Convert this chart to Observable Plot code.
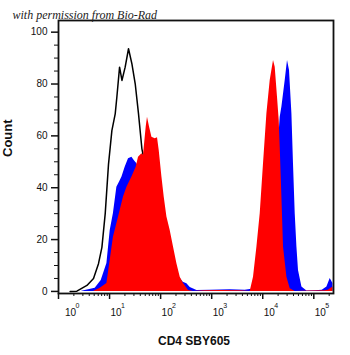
<!DOCTYPE html>
<html>
<head>
<meta charset="utf-8">
<script src="https://cdn.jsdelivr.net/npm/d3@7"></script>
<script src="https://cdn.jsdelivr.net/npm/@observablehq/plot@0.6"></script>
<style>
  html, body { margin: 0; padding: 0; background: #fff; }
</style>
</head>
<body>
<div id="chart"></div>
<script>
// Unstained / control histogram (black outline)
const isoX = [1.69,2.29,3.60,4.85,6.07,7.08,8.22,9.53,11.1,12.9,13.9,15.7,17.5,20.2,23.5,27.4,31.8,36.9,43.0,62.5,98,154,242];
const isoCount = [0,0.1,2.3,5,10.7,17,30,49,62,68.5,75,86.5,81.4,86.5,93.6,87.8,80.1,68.5,55,39,19.7,6,0.8];

// Blue filled histogram
const blueX = [2.87,5.23,6.86,8.87,10.3,11.9,13.9,15.7,17.5,20.2,23.5,27.4,30.4,34.3,43.6,62.5,98,154,221,277,327,380,514,935,2305,4530,7120,9750,12790,16030,19190,21980,23720,27540,30540,33420,37240,40000,43240,46680,50130,58460,73250,106500,146000,180600,209500,236700];
const blueCount = [0.1,1.2,4.2,10.8,23.5,30.1,40.2,42.2,44.1,47.9,51.2,51.8,50.5,49.2,45,40,30,18,6,3.5,3,1.5,0.4,0.5,0.6,0.5,1,4,12,30,50,67.2,71.1,81.4,89.1,85.2,68.5,49.2,30,17.1,8.1,1.7,0.2,0.3,0.5,1.7,5,3.1];

// Red filled histogram (CD4 SBY605)
const redX = [4.85,6.56,8.87,10.3,11.9,15.0,18.75,21.9,27.4,33.2,36.9,43.0,46.2,49.9,52.2,55.3,60.6,67.5,78.3,86.9,93.8,106,117.5,132.8,154,178.7,208.4,242,280.6,351.6,440.6,746,1469,3620,5680,6590,7690,8920,10350,12060,14000,16250,17540,19450,21000,21980,23720,25510,29730,34510,43240,84960,167200,191400,236700];
const redCount = [0,1.2,3.1,12,20.9,28.7,36.4,40.2,44.1,47.9,51.8,53.1,52.4,59.5,63.4,67.2,63.4,59.5,58.9,59.3,54.4,44.1,36.4,28.7,23.5,17.1,10.7,5.5,3.1,0.4,0,0.3,0.4,0.3,0,5.5,17.1,30,49.2,68.5,81.4,89.1,86.5,74.9,65.9,55.6,36.4,17.1,5.5,1,0,0.2,0.3,0.5,1.7];

// Axis ticks and labels
const yMajorTicks = [0,20,40,60,80,100];
const yMinorTicks = [5,10,15,25,30,35,45,50,55,65,70,75,85,90,95];
const xMajorTicks = [1,10,100,1000,10000,100000];
const xExponents = ["0","1","2","3","4","5"];
const xMinorTicks = [2,3,4,5,6,7,8,9,20,30,40,50,60,70,80,90,200,300,400,500,600,700,800,900,2000,3000,4000,5000,6000,7000,8000,9000,20000,30000,40000,50000,60000,70000,80000,90000,200000];
const titleText = "with permission from Bio-Rad";
const xLabel = "CD4 SBY605";
const yLabel = "Count";

const toRows = (xs, ys) => xs.map((x, i) => ({x, y: ys[i]}));
const iso = toRows(isoX, isoCount);
const blue = toRows(blueX, blueCount);
const red = toRows(redX, redCount);
const majorRows = xMajorTicks.map((v, i) => ({v, e: xExponents[i]}));
const firstMajor = majorRows.slice(0, 1);
const restMajor = majorRows.slice(1);

const chart = Plot.plot({
  width: 350,
  height: 355,
  marginLeft: 58,
  marginRight: 17,
  marginTop: 20,
  marginBottom: 62,
  style: {fontFamily: "'Liberation Sans', Arial, sans-serif", fontSize: "10px", color: "#111", background: "#fff", overflow: "visible"},
  x: {type: "log", domain: [1, 243000]},
  y: {domain: [-0.8, 104.5]},
  marks: [
    Plot.line(iso, {x: "x", y: "y", stroke: "#000", strokeWidth: 1.5}),
    Plot.areaY(blue, {x: "x", y: "y", fill: "#0000ff"}),
    Plot.areaY(red, {x: "x", y: "y", fill: "#ff0000"}),
    Plot.frame({stroke: "#111", strokeWidth: 1.8}),
    Plot.axisY({ticks: yMajorTicks, tickSize: 7, tickPadding: 4, strokeWidth: 1.5, label: null, fontSize: 10}),
    Plot.axisY({ticks: yMinorTicks, tickSize: 4, tickFormat: () => "", label: null}),
    Plot.axisX({ticks: xMajorTicks, tickSize: 6, strokeWidth: 1.5, tickFormat: () => "", label: null}),
    Plot.axisX({ticks: xMinorTicks, tickSize: 3, tickFormat: () => "", label: null}),
    // decade labels: "10" with superscript exponent
    Plot.text(restMajor, {x: "v", text: () => "10", frameAnchor: "bottom", textAnchor: "start", lineAnchor: "bottom", dx: 1, dy: 22, fontSize: 10, fill: "#111"}),
    Plot.text(restMajor, {x: "v", text: "e", frameAnchor: "bottom", textAnchor: "start", lineAnchor: "bottom", dx: 11.5, dy: 14, fontSize: 7, fill: "#111"}),
    Plot.text(firstMajor, {x: "v", text: () => "10", frameAnchor: "bottom", textAnchor: "start", lineAnchor: "bottom", dx: 6.5, dy: 22, fontSize: 10, fill: "#111"}),
    Plot.text(firstMajor, {x: "v", text: "e", frameAnchor: "bottom", textAnchor: "start", lineAnchor: "bottom", dx: 17, dy: 14, fontSize: 7, fill: "#111"}),
    // axis titles
    Plot.text([xLabel], {text: d => d, frameAnchor: "bottom", lineAnchor: "bottom", dx: -2, dy: 51, fontSize: 12, fontWeight: "bold", fill: "#111"}),
    Plot.text([yLabel], {text: d => d, frameAnchor: "left", rotate: -90, lineAnchor: "middle", dx: -51, fontSize: 13, fontWeight: "bold", fill: "#111"}),
    // credit line
    Plot.text([titleText], {text: d => d, frameAnchor: "top-left", textAnchor: "start", lineAnchor: "bottom", dx: -46, dy: -2, fontSize: 12, fontStyle: "italic", fontFamily: "'Liberation Serif', serif", fill: "#222"})
  ]
});
document.getElementById("chart").appendChild(chart);
</script>
</body>
</html>
